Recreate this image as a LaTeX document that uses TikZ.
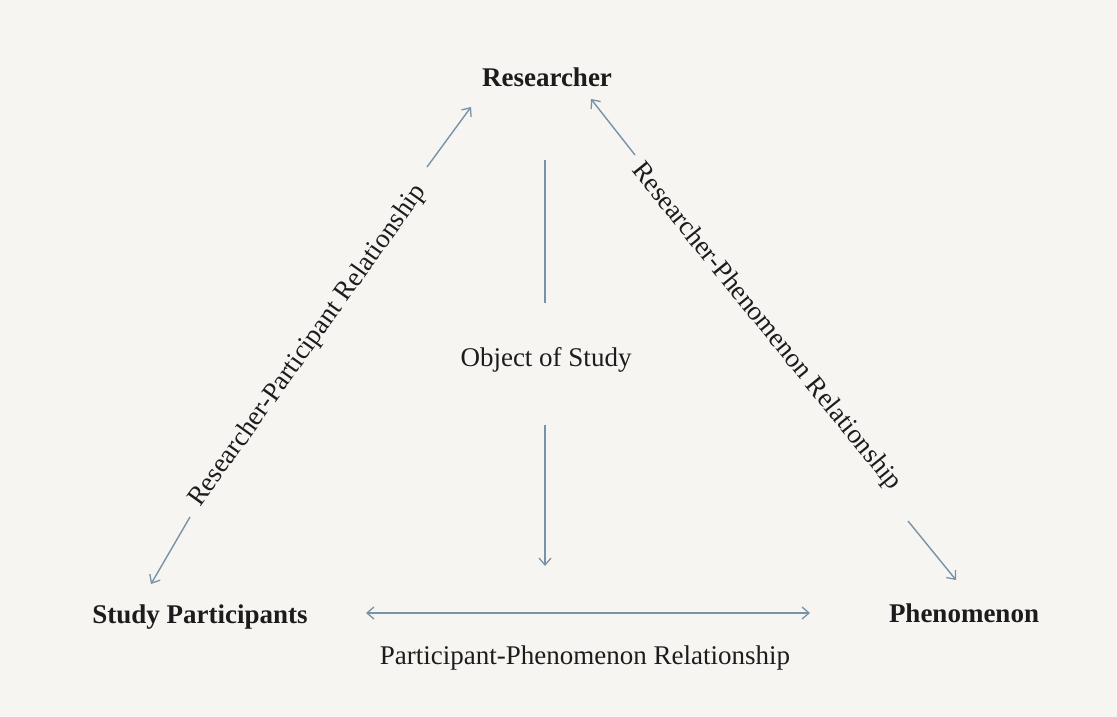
\documentclass[tikz,border=0pt]{standalone}
\usepackage{fontspec}
\setmainfont{Liberation Serif}
\usetikzlibrary{arrows.meta}
\definecolor{bgcol}{RGB}{247,245,242}
\definecolor{arrcol}{RGB}{120,146,168}
\definecolor{txtcol}{RGB}{28,28,28}
\tikzset{
  lbl/.style={inner sep=0pt, text=txtcol, font=\fontsize{27}{32}\selectfont},
  blbl/.style={lbl, font=\fontsize{27}{32}\selectfont\bfseries},
  conn/.style={draw=arrcol, line width=1.4pt},
  tipped/.style={conn, -{Straight Barb[length=7pt,width=12pt,line width=1.3pt]}},
  dtipped/.style={conn, {Straight Barb[length=7pt,width=12pt,line width=1.3pt]}-{Straight Barb[length=7pt,width=12pt,line width=1.3pt]}}
}
\begin{document}
\begin{tikzpicture}[x=1pt,y=-1pt]
\fill[bgcol] (0,0) rectangle (1117,717);
\useasboundingbox (0,0) rectangle (1117,717);

% main labels
\node[blbl, anchor=base] (researcher) at (547,87) {Researcher};
\node[blbl, anchor=base] (participants) at (200,623) {Study Participants};
\node[blbl, anchor=base] (phenomenon) at (964,622) {Phenomenon};
\node[lbl, anchor=base] (object) at (546,366) {Object of Study};
\node[lbl, anchor=base] (ppl) at (585,664) {Participant-Phenomenon Relationship};
\node[lbl, rotate=54.5] (rpl) at (308,346) {Researcher-Participant Relationship};
\node[lbl, rotate=-51] (rphl) at (766,327) {Researcher-Phenomenon Relationship};

% connector end points
\coordinate (l1s) at (427,167);
\coordinate (l1e) at (471,107);
\coordinate (l2s) at (190,517);
\coordinate (l2e) at (151,584);
\coordinate (r1s) at (635,155);
\coordinate (r1e) at (591,99);
\coordinate (r2s) at (908,521);
\coordinate (r2e) at (956,580);
\coordinate (v1s) at (545,160);
\coordinate (v1e) at (545,303);
\coordinate (v2s) at (545,425);
\coordinate (v2e) at (545,566);
\coordinate (hs) at (366,613);
\coordinate (he) at (810,613);

% connectors
\draw[tipped] (l1s) -- (l1e);
\draw[tipped] (l2s) -- (l2e);
\draw[tipped] (r1s) -- (r1e);
\draw[tipped] (r2s) -- (r2e);
\draw[conn] (v1s) -- (v1e);
\draw[tipped] (v2s) -- (v2e);
\draw[dtipped] (hs) -- (he);
\end{tikzpicture}
\end{document}
